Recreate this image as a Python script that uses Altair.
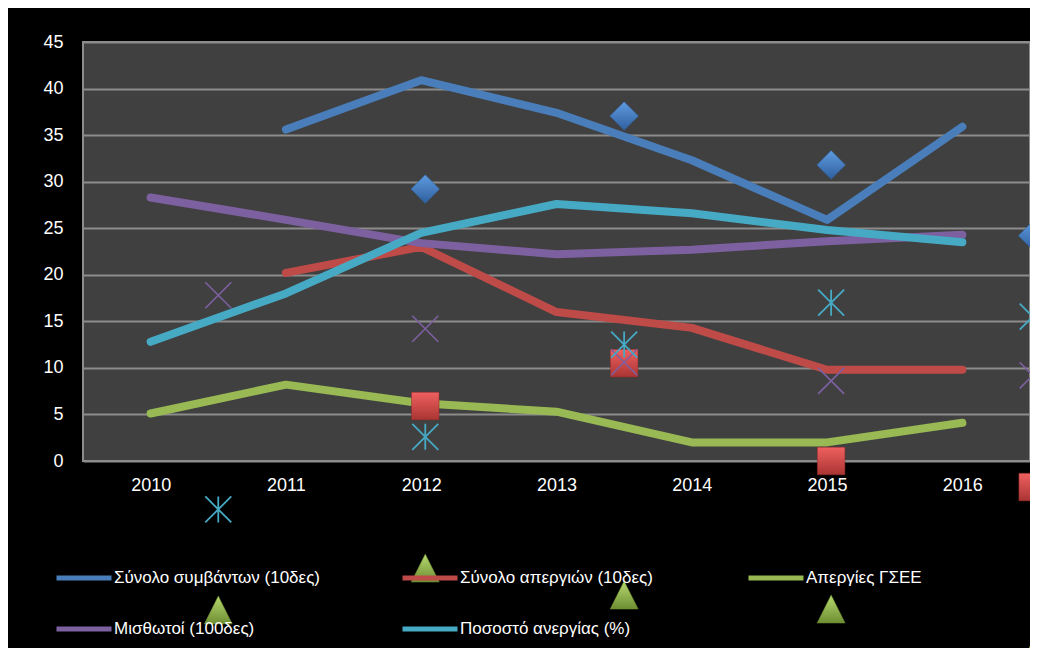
import altair as alt
import pandas as pd

FONT = "Liberation Sans"

years = [2010, 2011, 2012, 2013, 2014, 2015, 2016]
series_names = [
    "Σύνολο συμβάντων (10δες)",
    "Σύνολο απεργιών (10δες)",
    "Απεργίες ΓΣΕΕ",
    "Μισθωτοί (100δες)",
    "Ποσοστό ανεργίας (%)",
]
colors = ["#4A7EBB", "#BE4B48", "#98B954", "#7D60A0", "#46AAC5"]

symvanta = [None, 35.6, 40.9, 37.4, 32.3, 25.9, 35.9]
apergies = [None, 20.2, 23.0, 16.0, 14.3, 9.8, 9.8]
gsee = [5.1, 8.2, 6.2, 5.3, 2.0, 2.0, 4.1]
misthotoi = [28.3, 25.9, 23.4, 22.2, 22.7, 23.6, 24.3]
anergia = [12.8, 18.0, 24.5, 27.6, 26.6, 24.8, 23.5]

# stray (misplaced) markers as they appear in the picture
marker_x = [2010.5, 2012.03, 2013.5, 2015.03, 2016.52]
symvanta_m = [None, 29.2, 37.05, 31.8, 24.2]
apergies_m = [None, 5.9, 10.5, 0.0, -2.8]
gsee_m = [-16.0, -11.5, -14.4, -15.9, -20.8]
misthotoi_m = [17.8, 14.2, 10.6, 8.6, 9.2]
anergia_m = [-5.2, 2.6, 12.5, 17.0, 15.5]

y_ticks = [0, 5, 10, 15, 20, 25, 30, 35, 40, 45]

line_values = [symvanta, apergies, gsee, misthotoi, anergia]
marker_values = [symvanta_m, apergies_m, gsee_m, misthotoi_m, anergia_m]

rows = []
for name, vals in zip(series_names, line_values):
    for yr, v in zip(years, vals):
        if v is not None:
            rows.append({"series": name, "year": yr, "value": v})
lines_df = pd.DataFrame(rows)

mrows = []
for name, vals in zip(series_names, marker_values):
    for xx, v in zip(marker_x, vals):
        if v is not None:
            mrows.append({"series": name, "x": xx, "value": v})
markers_df = pd.DataFrame(mrows)

x_scale = alt.Scale(domain=[2009.5, 2016.5], nice=False, zero=False)
y_scale = alt.Scale(domain=[0, 45], nice=False)
color_scale = alt.Scale(domain=series_names, range=colors)

x_axis = alt.Axis(values=years, format="d", title=None, grid=False, domain=False,
                  ticks=False, labelPadding=15, labelColor="white", labelFont=FONT,
                  labelFontSize=18)
y_axis = alt.Axis(values=y_ticks, title=None, grid=True, gridColor="#8c8c8c",
                  gridWidth=2, domain=False, ticks=False, labelPadding=20,
                  labelColor="white", labelFont=FONT, labelFontSize=18)

legend = alt.Legend(orient="none", legendX=-29, legendY=506, direction="horizontal",
                    columns=3, title=None, symbolType="stroke", symbolSize=3025,
                    symbolStrokeWidth=5, labelColor="white", labelFont=FONT,
                    labelFontSize=17, labelOffset=0, columnPadding=72, rowPadding=11,
                    gridAlign="all", labelLimit=400, padding=0, zindex=1)

layers = []
for name in series_names:
    layers.append(
        alt.Chart(lines_df)
        .transform_filter(alt.FieldEqualPredicate(field="series", equal=name))
        .mark_line(strokeWidth=8, strokeCap="round", strokeJoin="round")
        .encode(
            x=alt.X("year:Q", scale=x_scale, axis=x_axis),
            y=alt.Y("value:Q", scale=y_scale, axis=y_axis),
            color=alt.Color("series:N", scale=color_scale, legend=legend),
        )
    )

def grad(light, dark):
    return alt.Gradient(gradient="linear", x1=0, y1=0, x2=0, y2=1,
                        stops=[alt.GradientStop(color=light, offset=0),
                               alt.GradientStop(color=dark, offset=1)])

TRI = "M0,-1L1,1L-1,1Z"
XPATH = "M-1,-1L1,1M-1,1L1,-1"
STAR = "M-1,-1L1,1M-1,1L1,-1M0,-1L0,1"

marker_specs = [
    (series_names[0], dict(shape="diamond", size=820, filled=True, fill=grad("#5E9BE0", "#2F5F9E"), stroke="#2F5F9E", strokeWidth=0.5)),
    (series_names[1], dict(shape="square", size=760, filled=True, fill=grad("#F06060", "#A93533"), stroke="#8E2B29", strokeWidth=0.5)),
    (series_names[2], dict(shape=TRI, size=780, filled=True, fill=grad("#B7D96E", "#6E8E33"), stroke="#6E8E33", strokeWidth=0.5)),
    (series_names[3], dict(shape=XPATH, size=676, filled=False, stroke="#7D60A0", strokeWidth=1.6)),
    (series_names[4], dict(shape=STAR, size=676, filled=False, stroke="#46AAC5", strokeWidth=1.8)),
]

for name, props in marker_specs:
    layers.append(
        alt.Chart(markers_df)
        .transform_filter(alt.FieldEqualPredicate(field="series", equal=name))
        .mark_point(opacity=1, clip=False, **props)
        .encode(
            x=alt.X("x:Q", scale=x_scale, axis=x_axis),
            y=alt.Y("value:Q", scale=y_scale, axis=y_axis),
        )
    )

chart = (
    alt.layer(*layers)
    .properties(
        width=947,
        height=419,
        autosize=alt.AutoSizeParams(type="none"),
        padding={"left": 75, "top": 34, "right": 0, "bottom": 187},
        background="black",
    )
    .configure_view(fill="#404040", stroke="#8c8c8c", strokeWidth=2)
)

chart.save("out.html", embed_options={"renderer": "svg", "actions": False})
